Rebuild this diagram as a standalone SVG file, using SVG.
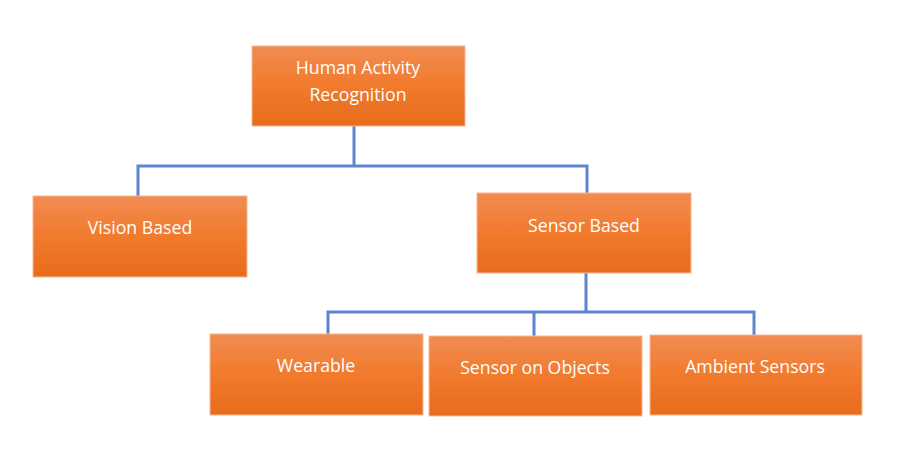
<svg xmlns="http://www.w3.org/2000/svg" width="899" height="467" viewBox="0 0 899 467">
<defs>
<linearGradient id="g" x1="0" y1="0" x2="0" y2="1">
<stop offset="0" stop-color="#F28C52"/>
<stop offset="0.5" stop-color="#F17A2C"/>
<stop offset="1" stop-color="#E86C1C"/>
</linearGradient>
<style>
.box{fill:url(#g);stroke:#F6B894;stroke-width:1}
.t{font-family:"Open Sans","Liberation Sans",sans-serif;font-size:17.7px;fill:#FFFFFF;text-anchor:middle}
.c{fill:none;stroke:#5B86CF;stroke-width:3}
</style>
</defs>
<rect width="899" height="467" fill="#FFFFFF"/>
<g id="connectors">
<path class="c" d="M354 126 V166 M138 196 V166 H587 V193"/>
<path class="c" d="M586 273 V312 M328 334 V312 H754 V335 M534 312 V336"/>
</g>
<g id="har">
<rect class="box" x="252" y="46" width="213" height="80"/>
<text class="t" x="358" y="74">Human Activity</text>
<text class="t" x="358" y="101">Recognition</text>
</g>
<g id="vision">
<rect class="box" x="33" y="196" width="214" height="81"/>
<text class="t" x="140" y="234">Vision Based</text>
</g>
<g id="sensor">
<rect class="box" x="477" y="193" width="214" height="80"/>
<text class="t" x="584" y="232">Sensor Based</text>
</g>
<g id="wearable">
<rect class="box" x="210" y="334" width="213" height="81"/>
<text class="t" x="316" y="372">Wearable</text>
</g>
<g id="objects">
<rect class="box" x="429" y="336" width="213" height="80"/>
<text class="t" x="535" y="374">Sensor on Objects</text>
</g>
<g id="ambient">
<rect class="box" x="650" y="335" width="212" height="80"/>
<text class="t" x="755" y="373">Ambient Sensors</text>
</g>
</svg>
